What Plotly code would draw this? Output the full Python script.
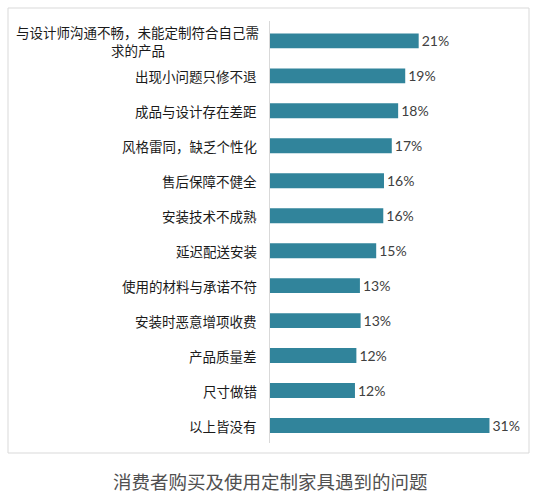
import plotly.graph_objects as go

# survey answers, top to bottom
problems = [
    "与设计师沟通不畅，未能定制符合自己需<br>求的产品",
    "出现小问题只修不退",
    "成品与设计存在差距",
    "风格雷同，缺乏个性化",
    "售后保障不健全",
    "安装技术不成熟",
    "延迟配送安装",
    "使用的材料与承诺不符",
    "安装时恶意增项收费",
    "产品质量差",
    "尺寸做错",
    "以上皆没有",
]
shares = [21.0, 19.1, 18.1, 17.2, 16.1, 16.0, 15.0, 12.7, 12.8, 12.2, 12.0, 31.0]
title_text = "消费者购买及使用定制家具遇到的问题"

W, H = 555, 499
L, R, T, B = 270, 35, 21, 56
pw, ph = W - L - R, H - T - B
LBL_SIZE = 13.5
LINE_H = 17.8
GAP = 11


def px_x(x):
    return (x - L) / pw


def px_y(y):
    return (H - B - y) / ph


fig = go.Figure()
fig.add_trace(go.Bar(
    x=shares, y=problems, orientation="h",
    marker=dict(color="#31849B", line=dict(width=0)),
    texttemplate="%{x:.0f}%", textposition="outside",
    textfont=dict(family="Lato, Open Sans, sans-serif", size=14, color="#404040"),
    constraintext="none", cliponaxis=False,
))

# category labels as annotations, one per line; wrapped ones are centred
for p in problems:
    lines = p.split("<br>")
    n = len(lines)
    if n == 1:
        fig.add_annotation(
            x=0, xref="paper", y=p, yref="y", text=p, showarrow=False,
            xanchor="right", xshift=-GAP,
            font=dict(family="Noto Sans CJK SC", size=LBL_SIZE, color="#1a1a1a"),
        )
        continue
    block_w = max(len(s) for s in lines) * LBL_SIZE
    for i, line in enumerate(lines):
        fig.add_annotation(
            x=0, xref="paper", y=p, yref="y", text=line, showarrow=False,
            xanchor="center", xshift=-GAP - block_w / 2, borderpad=0,
            yshift=((n - 1) / 2 - i) * LINE_H,
            font=dict(family="Noto Sans CJK SC", size=LBL_SIZE, color="#1a1a1a"),
        )

fig.add_annotation(
    x=px_x(270), y=px_y(481), xref="paper", yref="paper", text=title_text,
    showarrow=False, xanchor="center", yanchor="middle",
    font=dict(family="Noto Sans CJK SC", size=18.5, color="#505050"),
)

# light frame round the chart
fig.add_shape(
    type="rect", xref="paper", yref="paper",
    x0=px_x(8), x1=px_x(529), y0=px_y(453), y1=px_y(8),
    line=dict(color="#d9d9d9", width=1), fillcolor="rgba(0,0,0,0)",
)

fig.update_layout(
    width=W, height=H,
    margin=dict(l=L, r=R, t=T, b=B),
    paper_bgcolor="white", plot_bgcolor="white",
    showlegend=False, bargap=0.573,
    font=dict(family="Noto Sans CJK SC"),
    xaxis=dict(range=[0, pw / 7.08], showgrid=False, zeroline=False,
               showticklabels=False, showline=False),
    yaxis=dict(autorange="reversed", showticklabels=False, showgrid=False,
               showline=True, linecolor="#d9d9d9", linewidth=1, ticks=""),
)

fig.write_html("out.html", config={"displayModeBar": False},
               post_script="document.body.style.margin='0';")
